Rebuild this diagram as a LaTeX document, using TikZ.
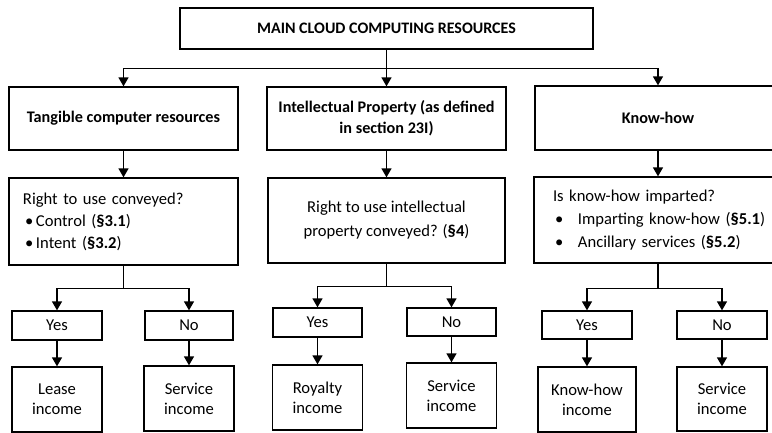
\documentclass[tikz,border=0pt]{standalone}
\usepackage{fontspec}
\setmainfont{Carlito}
\usetikzlibrary{arrows.meta}
\begin{document}
\begin{tikzpicture}[x=1pt,y=-1pt,
  box/.style={draw=black, line width=1.3pt, fill=white, inner sep=0pt, align=center,
              font=\fontsize{16.6}{20}\selectfont},
  boldbox/.style={box, font=\bfseries\fontsize{16.2}{21}\selectfont},
  ln/.style={line width=1.4pt},
  arr/.style={line width=1.4pt, -{Triangle[width=10pt,length=9pt]}}]
\useasboundingbox (0,0) rectangle (772,433);
\clip (0,0) rectangle (772,433);

% top
\node[box, minimum width=413pt, minimum height=41pt, font=\bfseries\fontsize{16}{18}\selectfont]
  (top) at (386.5,28.5) {MAIN CLOUD COMPUTING RESOURCES};

% first row
\node[boldbox, minimum width=229pt, minimum height=63pt] (tang) at (123.5,118.5) {Tangible computer resources};
\node[boldbox, minimum width=239pt, minimum height=63pt] (ip) at (386.5,118.5) {Intellectual Property (as defined\\in section 23I)};
\node[boldbox, minimum width=246pt, minimum height=64pt] (kh) at (658,118) {Know-how};

% second row
\node[box, minimum width=229pt, minimum height=87pt, align=left, text width=201pt,
      font=\fontsize{16.6}{22}\selectfont] (r1) at (123.5,221.5)
  {\mbox{Right to use conveyed?}\\
   \mbox{\makebox[13pt][l]{\hspace{2pt}\textbullet}Control (\textbf{§3.1})}\\
   \mbox{\makebox[13pt][l]{\hspace{2pt}\textbullet}Intent (\textbf{§3.2})}};
\node[box, minimum width=237pt, minimum height=85pt, font=\fontsize{16.6}{24}\selectfont]
  (r2) at (386.5,220.5) {Right to use intellectual\\property conveyed? (\textbf{§4})};
\node[box, minimum width=248pt, minimum height=86pt, align=left, text width=210pt,
      font=\fontsize{16.6}{23}\selectfont] (r3) at (658,220)
  {\mbox{Is know-how imparted?}\\
   \mbox{\makebox[25pt][l]{\hspace{2pt}\textbullet}Imparting know-how (\textbf{§5.1})}\\
   \mbox{\makebox[25pt][l]{\hspace{2pt}\textbullet}Ancillary services (\textbf{§5.2})}};

% yes / no
\node[box, minimum width=90pt, minimum height=29pt] (y1) at (57,325.5) {Yes};
\node[box, minimum width=88pt, minimum height=29pt] (n1) at (189,325.5) {No};
\node[box, minimum width=89pt, minimum height=29pt] (y2) at (317.5,322.5) {Yes};
\node[box, minimum width=89pt, minimum height=28pt] (n2) at (451.5,322) {No};
\node[box, minimum width=90pt, minimum height=28pt] (y3) at (587,325) {Yes};
\node[box, minimum width=90pt, minimum height=28pt] (n3) at (722,325) {No};

% results
\node[box, minimum width=90pt, minimum height=65pt] (l1) at (57,399.5) {Lease\\income};
\node[box, minimum width=90pt, minimum height=65pt] (s1) at (189,398.5) {Service\\income};
\node[box, minimum width=90pt, minimum height=65pt] (l2) at (317.5,397.5) {Royalty\\income};
\node[box, minimum width=90pt, minimum height=65pt] (s2) at (451.5,395.5) {Service\\income};
\node[box, minimum width=98pt, minimum height=65pt] (l3) at (587,399.5) {Know-how\\income};
\node[box, minimum width=90pt, minimum height=64pt] (s3) at (722,399) {Service\\income};

% connectors
\draw[ln] (top.south) -- ++(0,19) coordinate (j0);
\draw[arr] (j0) -| (tang.north);
\draw[arr] (j0) -- (ip.north);
\draw[arr] (j0) -| (kh.north);

\draw[arr] (tang.south) -- (r1.north);
\draw[arr] (ip.south) -- (r2.north);
\draw[arr] (kh.south) -- (r3.north);

\draw[ln] (r1.south) -- ++(0,23) coordinate (j1);
\draw[arr] (j1) -| (y1.north);
\draw[arr] (j1) -| (n1.north);
\draw[ln] (r2.south) -- ++(0,23) coordinate (j2);
\draw[arr] (j2) -| (y2.north);
\draw[arr] (j2) -| (n2.north);
\draw[ln] (r3.south) -- ++(0,25) coordinate (j3);
\draw[arr] (j3) -| (y3.north);
\draw[arr] (j3) -| (n3.north);

\draw[arr] (y1.south) -- (l1.north);
\draw[arr] (n1.south) -- (s1.north);
\draw[arr] (y2.south) -- (l2.north);
\draw[arr] (n2.south) -- (s2.north);
\draw[arr] (y3.south) -- (l3.north);
\draw[arr] (n3.south) -- (s3.north);
\end{tikzpicture}
\end{document}
